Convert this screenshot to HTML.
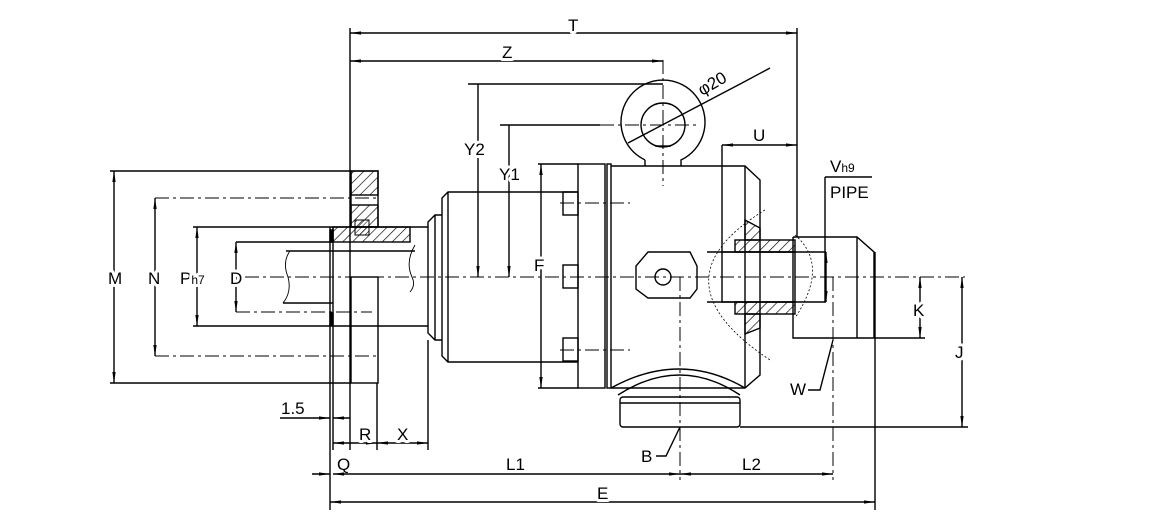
<!DOCTYPE html>
<html><head><meta charset="utf-8"><style>
html,body{margin:0;padding:0;background:#fff}
svg{display:block}
text{font-family:"Liberation Sans",sans-serif;font-size:17px;fill:#000;stroke:#fff;stroke-width:6px;paint-order:stroke;stroke-linejoin:round}
</style></head><body>
<svg width="1160" height="521" viewBox="0 0 1160 521" xmlns="http://www.w3.org/2000/svg">
<defs>
<pattern id="h" width="7" height="7" patternUnits="userSpaceOnUse" patternTransform="rotate(45)"><line x1="0" y1="0" x2="0" y2="7" stroke="#000" stroke-width="1.3"/></pattern>
<pattern id="h2" width="4" height="4" patternUnits="userSpaceOnUse" patternTransform="rotate(45)"><line x1="0" y1="0" x2="0" y2="4" stroke="#000" stroke-width="1"/></pattern>
<marker id="a" viewBox="0 0 10 10" refX="10" refY="5" markerWidth="8" markerHeight="8" orient="auto-start-reverse"><path d="M0,3.5 L10,5 L0,6.5z" fill="#000"/></marker>
</defs>
<g stroke="#000" stroke-width="1.4" fill="none">
<g stroke-dasharray="14,4,3,4" stroke-width="1">
<line x1="245" y1="277" x2="965" y2="277"/>
<line x1="663" y1="60" x2="663" y2="186"/>
<line x1="600" y1="125" x2="700" y2="125"/>
<line x1="680" y1="277" x2="680" y2="480"/>
<line x1="833" y1="277" x2="833" y2="480"/>
<line x1="155" y1="198" x2="378" y2="198"/>
<line x1="155" y1="356" x2="378" y2="356"/>
<line x1="560" y1="203" x2="630" y2="203"/>
<line x1="560" y1="350" x2="630" y2="350"/>
<line x1="236" y1="312" x2="372" y2="312"/>
</g>
<line x1="350" y1="28" x2="350" y2="450"/>
<line x1="797" y1="28" x2="797" y2="237"/>
<line x1="350" y1="33" x2="797" y2="33" marker-start="url(#a)" marker-end="url(#a)"/>
<line x1="350" y1="61" x2="663" y2="61" marker-start="url(#a)" marker-end="url(#a)"/>
<path d="M645,160 A42,42 0 1 1 681,160 L681,166 M645,160 L645,166"/>
<circle cx="663" cy="125" r="22"/>
<line x1="655" y1="146" x2="671" y2="146"/>
<line x1="628" y1="143" x2="742" y2="83"/>
<line x1="742" y1="83" x2="770" y2="68"/>
<line x1="468" y1="84" x2="663" y2="84"/>
<line x1="478" y1="84" x2="478" y2="277" marker-end="url(#a)"/>
<line x1="500" y1="125" x2="600" y2="125"/>
<line x1="509" y1="125" x2="509" y2="277" marker-end="url(#a)"/>
<line x1="538" y1="164" x2="578" y2="164"/>
<line x1="538" y1="388" x2="578" y2="388"/>
<line x1="541" y1="164" x2="541" y2="388" marker-start="url(#a)" marker-end="url(#a)"/>
<rect x="578" y="164" width="27" height="224"/>
<rect x="607" y="164" width="4" height="224"/>
<rect x="563" y="192" width="15" height="23"/>
<rect x="563" y="265" width="15" height="23"/>
<rect x="563" y="338" width="15" height="23"/>
<path d="M578,192 L448,192 L442,198 L442,356 L448,362 L578,362 M448,192 L448,362"/>
<path d="M442,215 L435,215 L428,222 L428,333 L435,340 L442,340 M435,215 L435,340"/>
<path d="M611,166 L745,166 L760,180 L760,375 L745,388 L611,388 M745,166 L745,388"/>
<path d="M611,388 Q680,350 745,388"/>
<path d="M618,395 Q680,355 740,395"/>
<rect x="620" y="397" width="120" height="30" rx="3"/>
<line x1="620" y1="403" x2="740" y2="403"/>
<path d="M648,252 L690,252 L697,266 L697,289 L690,298 L648,298 L636,289 L636,266 Z"/>
<circle cx="663" cy="277" r="8"/>
<path d="M793,237 L857,237 L874,252 L874,338 M857,237 L857,338 M793,237 L793,338 L925,338"/>
<rect x="722" y="252" width="73" height="50"/>
<line x1="707" y1="252" x2="826" y2="252"/>
<line x1="707" y1="302" x2="826" y2="302"/>
<rect x="735" y="240" width="60" height="12" fill="url(#h)"/>
<rect x="735" y="302" width="60" height="12" fill="url(#h)"/>
<path d="M745,220 L760,228 L760,240 L745,240Z" fill="url(#h)"/>
<path d="M745,314 L760,314 L760,328 L745,334Z" fill="url(#h)"/>
<path d="M765,210 Q650,280 770,360 M795,235 Q830,265 795,318" stroke-width="0.8" stroke-dasharray="2,2"/>
<line x1="722" y1="145" x2="722" y2="252"/>
<line x1="722" y1="145" x2="797" y2="145" marker-start="url(#a)" marker-end="url(#a)"/>
<line x1="825" y1="177" x2="825" y2="302"/>
<line x1="825" y1="177" x2="872" y2="177"/>
<line x1="826" y1="252" x2="826" y2="302" marker-start="url(#a)" marker-end="url(#a)"/>
<line x1="875" y1="252" x2="875" y2="510"/>
<line x1="920" y1="277" x2="920" y2="338" marker-start="url(#a)" marker-end="url(#a)"/>
<line x1="740" y1="427" x2="968" y2="427"/>
<line x1="962" y1="277" x2="962" y2="427" marker-start="url(#a)" marker-end="url(#a)"/>
<polyline points="833,340 820,390 808,390"/>
<rect x="351" y="171" width="27" height="56"/>
<rect x="351" y="171" width="27" height="24" fill="url(#h)"/>
<rect x="351" y="205" width="27" height="22" fill="url(#h)"/>
<rect x="351" y="277" width="27" height="106"/>
<rect x="333" y="227" width="77" height="15" fill="url(#h)"/>
<rect x="355" y="220" width="14" height="15" fill="url(#h2)" stroke-width="1"/>
<line x1="330" y1="227" x2="428" y2="227"/>
<line x1="330" y1="326" x2="428" y2="326"/>
<line x1="330" y1="227" x2="330" y2="510"/>
<line x1="333" y1="227" x2="333" y2="450"/>
<rect x="330" y="230" width="3" height="12" fill="#000"/>
<rect x="330" y="313" width="3" height="12" fill="#000"/>
<line x1="236" y1="242" x2="333" y2="242"/>
<line x1="286" y1="251" x2="415" y2="251"/>
<line x1="283" y1="303" x2="333" y2="303"/>
<path d="M290,251 Q282,262 288,277 Q292,292 283,303" stroke-width="0.9"/>
<path d="M415,245 Q405,262 412,277 Q416,285 410,292" stroke-width="0.9"/>
<line x1="377" y1="383" x2="377" y2="450"/>
<line x1="428" y1="340" x2="428" y2="450"/>
<line x1="110" y1="171" x2="351" y2="171"/>
<line x1="110" y1="383" x2="351" y2="383"/>
<line x1="114" y1="171" x2="114" y2="383" marker-start="url(#a)" marker-end="url(#a)"/>
<line x1="155" y1="198" x2="155" y2="356" marker-start="url(#a)" marker-end="url(#a)"/>
<line x1="193" y1="227" x2="330" y2="227"/>
<line x1="193" y1="326" x2="330" y2="326"/>
<line x1="197" y1="227" x2="197" y2="326" marker-start="url(#a)" marker-end="url(#a)"/>
<line x1="236" y1="242" x2="236" y2="312" marker-start="url(#a)" marker-end="url(#a)"/>
<line x1="280" y1="418" x2="330" y2="418" marker-end="url(#a)"/>
<line x1="350" y1="418" x2="333" y2="418" marker-end="url(#a)"/>
<line x1="333" y1="443" x2="377" y2="443" marker-start="url(#a)" marker-end="url(#a)"/>
<line x1="377" y1="443" x2="428" y2="443" marker-start="url(#a)" marker-end="url(#a)"/>
<line x1="312" y1="474" x2="330" y2="474" marker-end="url(#a)"/>
<line x1="333" y1="474" x2="680" y2="474" marker-start="url(#a)" marker-end="url(#a)"/>
<line x1="680" y1="474" x2="833" y2="474" marker-start="url(#a)" marker-end="url(#a)"/>
<line x1="330" y1="502" x2="875" y2="502" marker-start="url(#a)" marker-end="url(#a)"/>
<polyline points="680,427 666,456 656,456"/>
</g>
<g>
<text x="568" y="31">T</text>
<text x="502" y="58">Z</text>
<text x="702" y="96" transform="rotate(-30 702 96)" style="stroke-width:0">φ20</text>
<text x="464" y="155">Y2</text>
<text x="499" y="180">Y1</text>
<text x="534" y="271">F</text>
<text x="753" y="141">U</text>
<text x="830" y="172" style="stroke-width:0">V<tspan font-size="12">h9</tspan></text>
<text x="830" y="198" font-size="11" style="stroke-width:0">PIPE</text>
<text x="913" y="316">K</text>
<text x="955" y="358">J</text>
<text x="790" y="395" style="stroke-width:0">W</text>
<text x="108" y="284">M</text>
<text x="148" y="284">N</text>
<text x="180" y="284">P<tspan font-size="12">h7</tspan></text>
<text x="230" y="284">D</text>
<text x="281" y="414" style="stroke-width:0">1.5</text>
<text x="359" y="440">R</text>
<text x="397" y="440">X</text>
<text x="337" y="470" style="stroke-width:0">Q</text>
<text x="506" y="470">L1</text>
<text x="742" y="470">L2</text>
<text x="641" y="462" style="stroke-width:0">B</text>
<text x="597" y="499">E</text>
</g>
</svg>
</body></html>
